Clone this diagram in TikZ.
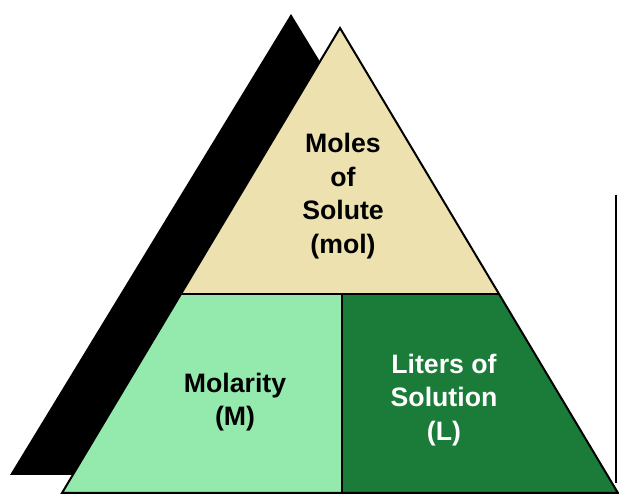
\documentclass[tikz,border=0pt]{standalone}
\usepackage{fontspec}
\setmainfont{Liberation Sans}
\usepackage{tikz}

\definecolor{soluteTan}{HTML}{EDE1B0}
\definecolor{molarityGreen}{HTML}{94EAAC}
\definecolor{litersGreen}{HTML}{1A7C38}

\tikzset{
  label text/.style={font=\bfseries\fontsize{20}{25.2}\selectfont, align=center}
}

\begin{document}
\begin{tikzpicture}[x=0.75pt, y=-0.75pt]

\useasboundingbox (0,0) rectangle (619,495);

% Black shadow triangle behind
\fill[black] (291,14) -- (572,475) -- (10,475) -- cycle;

% Top part of the pyramid
\fill[soluteTan] (340,28) -- (499,294) -- (181,294) -- cycle;

% Bottom left part
\fill[molarityGreen] (181,294) -- (342,294) -- (342,493) -- (62,493) -- cycle;

% Bottom right part
\fill[litersGreen] (342,294) -- (499,294) -- (618,493) -- (342,493) -- cycle;

% Outline and dividers
\draw[line width=1.5pt, line join=miter] (340,28) -- (618,493) -- (62,493) -- cycle;
\draw[line width=2pt] (181,294) -- (499,294);
\draw[line width=2pt] (342,294) -- (342,493);

% Line on the right
\draw[line width=1.5pt] (616,195) -- (616,483);

% Labels
\node[label text] (moles) at (343,196) {Moles\\of\\Solute\\(mol)};
\node[label text] (molarity) at (235,402) {Molarity\\(M)};
\node[label text, white] (liters) at (444,400) {Liters of\\Solution\\(L)};

\end{tikzpicture}
\end{document}
